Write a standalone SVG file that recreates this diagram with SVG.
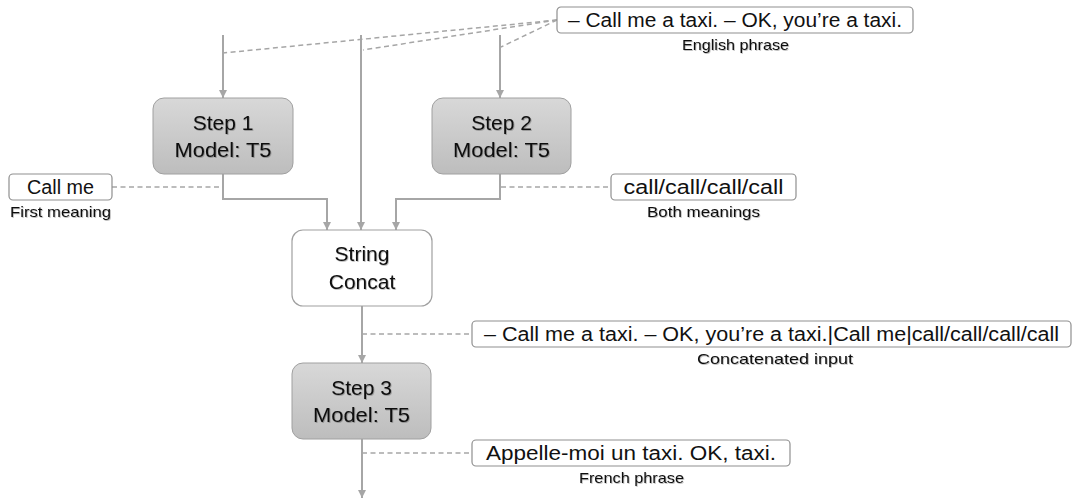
<svg xmlns="http://www.w3.org/2000/svg" width="1073" height="501" viewBox="0 0 1073 501">
  <style>
    .flow { fill: none; stroke: #a6a6a6; stroke-width: 2; }
    .note { fill: none; stroke: #a6a6a6; stroke-width: 1.5; stroke-dasharray: 5 3.5; }
    .model { fill: url(#modelFill); stroke: #a0a0a0; stroke-width: 1; }
    .op { fill: #ffffff; stroke: #a0a0a0; stroke-width: 1.2; }
    .tag { fill: #ffffff; stroke: #8f8f8f; stroke-width: 1.2; }
    .title { font-family: "Liberation Sans", Arial, sans-serif; font-size: 21px; fill: #111111; text-anchor: middle; filter: url(#soft); }
    .value { font-family: "Liberation Sans", Arial, sans-serif; font-size: 20px; fill: #111111; text-anchor: middle; }
    .caption { font-family: "Liberation Sans", Arial, sans-serif; font-size: 15px; fill: #111111; text-anchor: middle; filter: url(#soft); }
  </style>
  <defs>
    <linearGradient id="modelFill" x1="0" y1="0" x2="0" y2="1">
      <stop offset="0" stop-color="#d8d8d8"/>
      <stop offset="1" stop-color="#bdbdbd"/>
    </linearGradient>
    <filter id="soft" x="-10%" y="-30%" width="120%" height="160%">
      <feDropShadow dx="0.8" dy="0.8" stdDeviation="0.7" flood-color="#000000" flood-opacity="0.3"/>
    </filter>
    <marker id="head" viewBox="0 0 10 10" refX="10" refY="5" markerWidth="8" markerHeight="8" markerUnits="userSpaceOnUse" orient="auto">
      <path d="M0,0 L10,5 L0,10 z" fill="#a6a6a6"/>
    </marker>
  </defs>

  <g id="connectors">
    <!-- inputs from the top -->
    <line class="flow" x1="223" y1="35" x2="223" y2="98" marker-end="url(#head)"/>
    <line class="flow" x1="361" y1="35" x2="361" y2="230" marker-end="url(#head)"/>
    <line class="flow" x1="500" y1="35" x2="500" y2="98" marker-end="url(#head)"/>
    <!-- step outputs merging into the concatenation -->
    <polyline class="flow" points="223,174 223,199 327,199 327,230" marker-end="url(#head)"/>
    <polyline class="flow" points="500,174 500,199 396,199 396,230" marker-end="url(#head)"/>
    <line class="flow" x1="362" y1="306" x2="362" y2="363" marker-end="url(#head)"/>
    <line class="flow" x1="362" y1="439" x2="362" y2="498" marker-end="url(#head)"/>
    <!-- callouts -->
    <line class="note" x1="557" y1="20" x2="223" y2="53"/>
    <line class="note" x1="557" y1="20" x2="363" y2="50"/>
    <line class="note" x1="557" y1="20" x2="501" y2="47"/>
    <line class="note" x1="112" y1="187" x2="223" y2="187"/>
    <line class="note" x1="501" y1="187" x2="611" y2="187"/>
    <line class="note" x1="362" y1="334" x2="472" y2="334"/>
    <line class="note" x1="362" y1="453" x2="472" y2="453"/>
  </g>

  <g id="step1">
    <rect class="model" x="153" y="98" width="140" height="76" rx="11"/>
    <text class="title" x="223" y="130">Step 1</text>
    <text class="title" x="223" y="157" textLength="97" lengthAdjust="spacingAndGlyphs">Model: T5</text>
  </g>

  <g id="step2">
    <rect class="model" x="432" y="98" width="139" height="76" rx="11"/>
    <text class="title" x="501.5" y="130">Step 2</text>
    <text class="title" x="501.5" y="157" textLength="97" lengthAdjust="spacingAndGlyphs">Model: T5</text>
  </g>

  <g id="concat">
    <rect class="op" x="292" y="230" width="140" height="76" rx="11"/>
    <text class="title" x="362" y="261">String</text>
    <text class="title" x="362" y="289">Concat</text>
  </g>

  <g id="step3">
    <rect class="model" x="292" y="363" width="139" height="76" rx="11"/>
    <text class="title" x="361.5" y="395">Step 3</text>
    <text class="title" x="361.5" y="422" textLength="97" lengthAdjust="spacingAndGlyphs">Model: T5</text>
  </g>

  <g id="english">
    <rect class="tag" x="557" y="7" width="356" height="26" rx="4"/>
    <text class="value" x="735" y="27" textLength="334" lengthAdjust="spacingAndGlyphs">– Call me a taxi. – OK, you’re a taxi.</text>
    <text class="caption" x="735.5" y="50" textLength="107" lengthAdjust="spacingAndGlyphs">English phrase</text>
  </g>

  <g id="first-meaning">
    <rect class="tag" x="9" y="174" width="103" height="26" rx="4"/>
    <text class="value" x="60.5" y="194" textLength="67" lengthAdjust="spacingAndGlyphs">Call me</text>
    <text class="caption" x="60.5" y="217" textLength="101" lengthAdjust="spacingAndGlyphs">First meaning</text>
  </g>

  <g id="both-meanings">
    <rect class="tag" x="611" y="174" width="185" height="26" rx="4"/>
    <text class="value" x="703.5" y="194" textLength="160" lengthAdjust="spacingAndGlyphs">call/call/call/call</text>
    <text class="caption" x="703.5" y="217" textLength="113" lengthAdjust="spacingAndGlyphs">Both meanings</text>
  </g>

  <g id="concatenated">
    <rect class="tag" x="472" y="321" width="599" height="26" rx="4"/>
    <text class="value" x="771.5" y="341" textLength="575" lengthAdjust="spacingAndGlyphs">– Call me a taxi. – OK, you’re a taxi.|Call me|call/call/call/call</text>
    <text class="caption" x="775" y="364" textLength="156" lengthAdjust="spacingAndGlyphs">Concatenated input</text>
  </g>

  <g id="french">
    <rect class="tag" x="472" y="440" width="318" height="26" rx="4"/>
    <text class="value" x="631" y="460" textLength="290" lengthAdjust="spacingAndGlyphs">Appelle-moi un taxi. OK, taxi.</text>
    <text class="caption" x="631.5" y="483" textLength="105" lengthAdjust="spacingAndGlyphs">French phrase</text>
  </g>
</svg>
